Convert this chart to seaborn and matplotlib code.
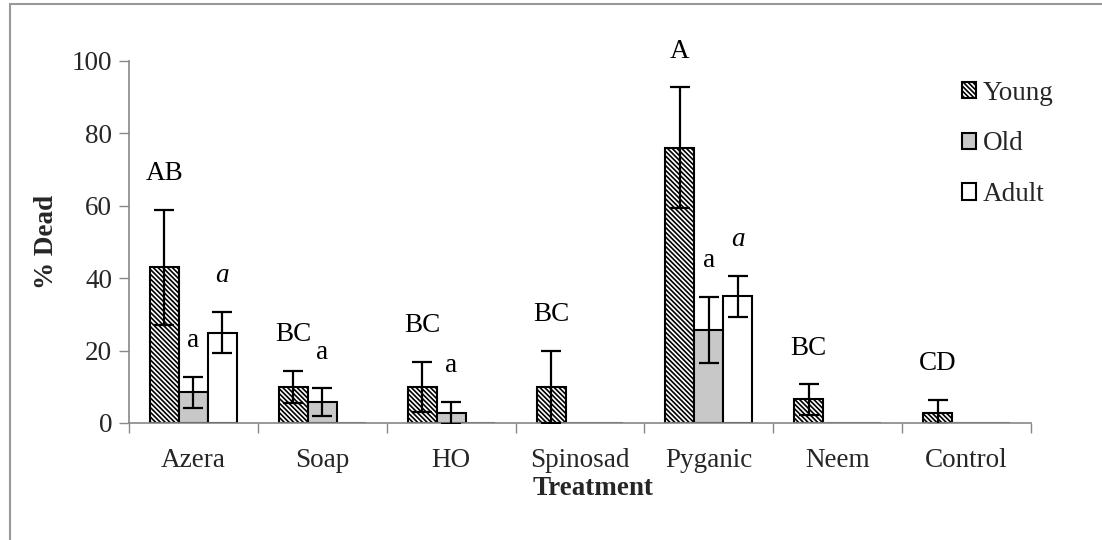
import numpy as np
import pandas as pd
import matplotlib
matplotlib.use("Agg")
import matplotlib.pyplot as plt
from matplotlib.patches import Patch, Rectangle
import seaborn as sns

treatments = ["Azera", "Soap", "HO", "Spinosad", "Pyganic", "Neem", "Control"]
stages = ["Young", "Old", "Adult"]
young = [43.0, 10.0, 10.0, 10.0, 76.0, 6.5, 2.9]
young_err = [15.8, 4.4, 6.9, 10.0, 16.7, 4.2, 3.5]
old = [8.5, 5.7, 2.8, 0.0, 25.8, 0.0, 0.0]
old_err = [4.3, 3.9, 3.0, 0.0, 9.1, 0.0, 0.0]
adult = [25.0, 0.0, 0.0, 0.0, 35.0, 0.0, 0.0]
adult_err = [5.8, 0.0, 0.0, 0.0, 5.7, 0.0, 0.0]
young_letters = ["AB", "BC", "BC", "BC", "A", "BC", "CD"]
old_letters = ["a", "a", "a", "", "a", "", ""]
adult_letters = ["a", "", "", "", "a", "", ""]

sns.set_theme(style="white")
plt.rcParams["font.family"] = ["Liberation Serif", "DejaVu Serif"]
plt.rcParams["hatch.linewidth"] = 1.2

FS = 19.5
HATCH = "\\" * 7

df = pd.DataFrame({
    "Treatment": treatments * 3,
    "Stage": [s for s in stages for _ in treatments],
    "Dead": young + old + adult,
})

fig = plt.figure(figsize=(11.02, 5.40), dpi=100)
ax = fig.add_axes([129 / 1102, 1 - 423 / 540, (1031 - 129) / 1102, (423 - 61) / 540])

colors = {"Young": "white", "Old": "#c8c8c8", "Adult": "white"}
sns.barplot(data=df, x="Treatment", y="Dead", hue="Stage", order=treatments,
            hue_order=stages, palette=colors, errorbar=None, width=0.675,
            gap=0, edgecolor="black", linewidth=1.5, legend=False, ax=ax,
            saturation=1)

bar_containers = list(ax.containers)
errs = [young_err, old_err, adult_err]
vals = [young, old, adult]
letters = [young_letters, old_letters, adult_letters]
styles = ["normal", "normal", "italic"]
for k, cont in enumerate(bar_containers):
    for i, bar in enumerate(cont.patches):
        if k == 0:
            bar.set_hatch(HATCH)
        if vals[k][i] == 0:
            bar.set_edgecolor("#555555")
        xc = bar.get_x() + bar.get_width() / 2
        v = vals[k][i]
        e = errs[k][i]
        if e > 0:
            ax.errorbar(xc, v, yerr=e, color="black", capsize=7,
                        elinewidth=1.6, capthick=1.6, fmt="none", zorder=5)
        if letters[k][i]:
            ax.text(xc, v + e + 10, letters[k][i], ha="center", va="center",
                    fontsize=FS, style=styles[k], color="black", clip_on=False)

ax.set_ylim(0, 100)
ax.set_xlim(-0.5, 6.5)
ax.set_yticks([0, 20, 40, 60, 80, 100])
ax.tick_params(axis="y", labelsize=FS, length=7, color="#888888", width=1,
               left=True, pad=5)
ax.set_xticks(range(7))
ax.set_xticklabels(treatments)
ax.tick_params(axis="x", which="major", labelsize=FS, length=0, pad=18)
ax.set_xticks(np.arange(-0.5, 7.0, 1.0), minor=True)
ax.tick_params(axis="x", which="minor", length=7, color="#888888", width=1,
               bottom=True)
for s in ["top", "right"]:
    ax.spines[s].set_visible(False)
for s in ["left", "bottom"]:
    ax.spines[s].set_color("#888888")
    ax.spines[s].set_linewidth(1.2)

ax.set_ylabel("% Dead", fontsize=FS, fontweight="bold")
ax.yaxis.set_label_coords(-(129 - 59) / 902, 0.5)
ax.set_xlabel("Treatment", fontsize=FS, fontweight="bold")
ax.xaxis.set_label_coords((593 - 129) / 902, -(476 - 423) / 362)

handles = [
    Patch(facecolor="white", edgecolor="black", hatch=HATCH, linewidth=1.5),
    Patch(facecolor="#c8c8c8", edgecolor="black", linewidth=1.5),
    Patch(facecolor="white", edgecolor="black", linewidth=1.5),
]
fig.legend(handles, stages, loc="upper left",
           bbox_to_anchor=(948 / 1102, 1 - 67 / 540), frameon=False,
           fontsize=FS, handlelength=0.55, handleheight=0.55, handletextpad=0.25,
           labelspacing=0.95, borderpad=0)

fig.patches.append(Rectangle((10 / 1102, -0.1), 1.2, 1.1 - 4 / 540,
                             transform=fig.transFigure, fill=False,
                             edgecolor="#999999", linewidth=1.5))

fig.savefig("out.png", dpi=100)
